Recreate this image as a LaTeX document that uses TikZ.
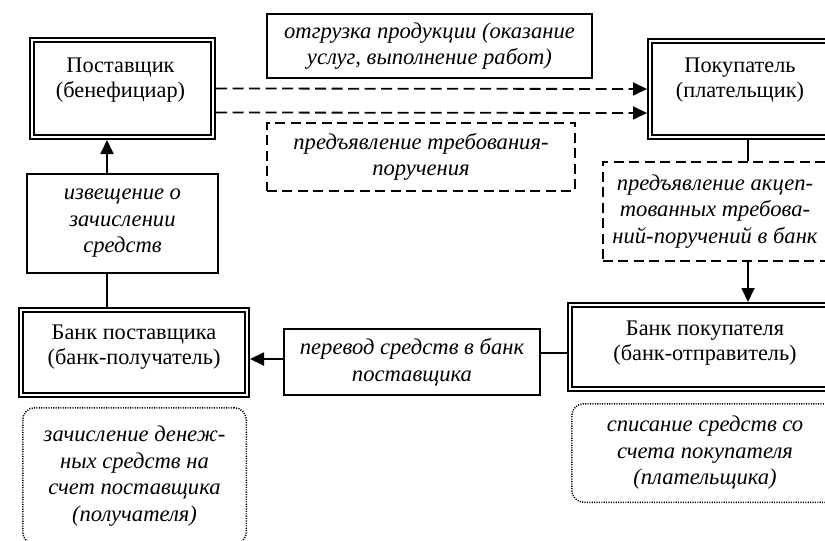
\documentclass[tikz,border=0pt]{standalone}
\usepackage{fontspec}
\setmainfont{Liberation Serif}
\usetikzlibrary{arrows.meta}

\begin{document}
\begin{tikzpicture}[x=1pt,y=-1pt,
  dbl/.style={draw, double, line width=2pt, double distance=1.8pt, outer sep=2.9pt, inner sep=0pt},
  lbl/.style={draw, line width=1.7pt, inner sep=0pt, outer sep=0.85pt, align=center,
              font=\itshape\fontsize{22.6}{26.5}\selectfont},
  dashbox/.style={lbl, dash pattern=on 10pt off 5.5pt},
  dotbox/.style={lbl, line width=1.5pt, dash pattern=on 1.1pt off 1.3pt, rounded corners=12pt},
  txt/.style={font=\fontsize{22.3}{25}\selectfont, align=center, inner sep=0pt},
  link/.style={line width=1.8pt},
  dlink/.style={link, dash pattern=on 11pt off 5.5pt},
  tip/.style={-{Triangle[length=14pt,width=13pt]}}
]
\clip (0,0) rectangle (825,541);

% participants (double-framed)
\node[dbl, minimum width=181.2pt, minimum height=97.2pt] (sup) at (122.5,88.5) {};
\node[dbl, minimum width=180.2pt, minimum height=96.2pt] (buy) at (740,89) {};
\node[dbl, minimum width=226.2pt, minimum height=85.2pt] (sbank) at (134,352.5) {};
\node[dbl, minimum width=270.2pt, minimum height=84.2pt] (bbank) at (705,347) {};

\node[txt] (supT) at ([xshift=-2pt,yshift=8pt]sup.center) {Поставщик\\(бенефициар)};
\node[txt] (buyT) at ([yshift=9pt]buy.center) {Покупатель\\(плательщик)};
\node[txt] (sbankT) at ([yshift=5pt]sbank.center) {Банк поставщика\\(банк-получатель)};
\node[txt] (bbankT) at ([yshift=4pt]bbank.center) {Банк покупателя\\(банк-отправитель)};

% operation captions
\node[lbl, minimum width=325.3pt, minimum height=64.3pt] (ship) at (429.5,46)
  {отгрузка продукции (оказание\\услуг, выполнение работ)};
\node[dashbox, minimum width=308.3pt, minimum height=68.3pt] (claim) at (421,157)
  {предъявление требования-\\поручения};
\node[lbl, minimum width=191.3pt, minimum height=99.3pt] (notice) at (122.5,223.5)
  {извещение о\\зачислении\\средств};
\node[dashbox, minimum width=224.3pt, minimum height=99.3pt] (accept) at (715,211.5)
  {предъявление акцеп-\\тованных требова-\\ний-поручений в банк};
\node[lbl, minimum width=256.3pt, minimum height=66.3pt] (transfer) at (412,362)
  {перевод средств в банк\\поставщика};
\node[dotbox, minimum width=223.5pt, minimum height=136.5pt] (credit) at (134.5,476)
  {зачисление денеж-\\ных средств на\\счет поставщика\\(получателя)};
\node[dotbox, minimum width=266.5pt, minimum height=98.5pt] (debit) at (705,453)
  {списание средств со\\счета покупателя\\(плательщика)};

% guide coordinates for the connector lines
\coordinate (vR) at (748,0);
\coordinate (vL) at (107,0);
\coordinate (hA) at (0,353);
\coordinate (hB) at (0,359);

% connectors
\draw[dlink,tip] (sup.east) -- (buy.west);
\draw[dlink,tip] ([yshift=-24pt]sup.east) -- ([yshift=-24pt]buy.west);
\draw[link] (buy.south -| vR) -- (accept.north -| vR);
\draw[link,tip] (accept.south -| vR) -- (bbank.north -| vR);
\draw[link] (transfer.east |- hA) -- (bbank.west |- hA);
\draw[link,tip] (transfer.west |- hB) -- (sbank.east |- hB);
\draw[link] (sbank.north -| vL) -- (notice.south -| vL);
\draw[link,tip] (notice.north -| vL) -- (sup.south -| vL);
\end{tikzpicture}
\end{document}
